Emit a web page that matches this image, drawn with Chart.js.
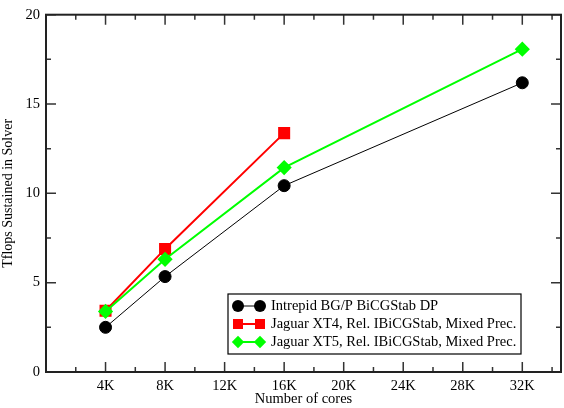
<!DOCTYPE html>
<html>
<head>
<meta charset="utf-8">
<script src="https://cdn.jsdelivr.net/npm/chart.js@4"></script>
<style>
  html,body{margin:0;padding:0;background:#fff}
  #wrap{width:564px;height:408px}
</style>
</head>
<body>
<div id="wrap"><canvas id="c"></canvas></div>
<script>
/* ---- data ---- */
const cores     = [4000, 8000, 16000, 32000];
const intrepid  = [2.5, 5.34, 10.43, 16.19];
const jaguarXT4 = [3.43, 6.89, 13.37];
const jaguarXT5 = [3.39, 6.31, 11.44, 18.07];
const names = ['Intrepid BG/P BiCGStab DP',
               'Jaguar XT4, Rel. IBiCGStab, Mixed Prec.',
               'Jaguar XT5, Rel. IBiCGStab, Mixed Prec.'];
/* x ticks every 2K, labelled every 4K */
const xTicks = [0, 2000, 4000, 6000, 8000, 10000, 12000, 14000, 16000,
                18000, 20000, 22000, 24000, 26000, 28000, 30000, 32000, 34000];
const xLabels = {4000:'4K', 8000:'8K', 12000:'12K', 16000:'16K',
                 20000:'20K', 24000:'24K', 28000:'28K', 32000:'32K'};

const FONT = "'Liberation Serif', 'DejaVu Serif', serif";
const pts = (xs, ys) => ys.map((v, i) => ({x: xs[i], y: v}));

const sets = [
  {label:names[0], data:pts(cores,intrepid),  borderColor:'#000', backgroundColor:'#000',
   borderWidth:1, pointStyle:'circle', pointRadius:6, order:2},
  {label:names[1], data:pts(cores,jaguarXT4), borderColor:'#f00', backgroundColor:'#f00',
   borderWidth:2, pointStyle:'rect', pointRadius:7.1, order:1},
  {label:names[2], data:pts(cores,jaguarXT5), borderColor:'#0f0', backgroundColor:'#0f0',
   borderWidth:2, pointStyle:'rectRot', pointRadius:6.2, order:0}
];

/* ---- frame with inward ticks ---- */
const frame = {
  id:'frame',
  beforeDatasetsDraw(c){
    const {ctx, chartArea:a, scales:{x, y}} = c;
    ctx.save();
    ctx.strokeStyle = '#333';
    ctx.lineWidth = 1.5;
    x.ticks.forEach(t => {
      const px = x.getPixelForValue(t.value), len = xLabels[t.value] || t.value === 0 ? 10 : 5;
      ctx.beginPath();
      ctx.moveTo(px, a.bottom); ctx.lineTo(px, a.bottom - len);
      ctx.moveTo(px, a.top);    ctx.lineTo(px, a.top + len);
      ctx.stroke();
    });
    y.ticks.forEach(t => {
      const py = y.getPixelForValue(t.value), len = t.value % 5 ? 5 : 10;
      ctx.beginPath();
      ctx.moveTo(a.left, py);  ctx.lineTo(a.left + len, py);
      ctx.moveTo(a.right, py); ctx.lineTo(a.right - len, py);
      ctx.stroke();
    });
    ctx.strokeStyle = '#222';
    ctx.lineWidth = 2;
    ctx.strokeRect(a.left, a.top, a.right - a.left, a.bottom - a.top);
    ctx.restore();
  },
  afterDraw(c){
    /* legend box */
    const ctx = c.ctx;
    const bx = 228, by = 294, bw = 293, bh = 60, rows = [306, 324, 342];
    ctx.save();
    ctx.fillStyle = '#fff';
    ctx.fillRect(bx, by, bw, bh);
    ctx.strokeStyle = '#000';
    ctx.lineWidth = 1.2;
    ctx.strokeRect(bx, by, bw, bh);
    ctx.font = '14.5px ' + FONT;
    ctx.textBaseline = 'middle';
    sets.forEach((s, i) => {
      const yy = rows[i];
      ctx.strokeStyle = s.borderColor;
      ctx.lineWidth = s.borderWidth;
      ctx.beginPath(); ctx.moveTo(238, yy); ctx.lineTo(260, yy); ctx.stroke();
      [238, 260].forEach(xx => {
        ctx.fillStyle = s.backgroundColor;
        Chart.helpers.drawPoint(ctx, {pointStyle:s.pointStyle, radius:s.pointRadius, rotation:0, borderWidth:0}, xx, yy);
      });
      ctx.fillStyle = '#000';
      ctx.fillText(s.label, 271, yy);
    });
    ctx.restore();
  }
};

/* ---- chart ---- */
new Chart(document.getElementById('c'), {
  type:'line',
  data:{datasets:sets},
  options:{
    responsive:true, maintainAspectRatio:false, animation:false,
    layout:{autoPadding:false, padding:{top:10, right:3, left:0, bottom:0}},
    elements:{line:{tension:0}, point:{borderWidth:0, hoverRadius:6}},
    plugins:{legend:{display:false}, tooltip:{enabled:false}},
    scales:{
      x:{
        type:'linear', min:0, max:34600,
        grid:{display:false, drawTicks:false}, border:{display:false},
        afterBuildTicks: s => { s.ticks = xTicks.map(v => ({value:v})); },
        afterFit: s => { s.height = 36; },
        ticks:{autoSkip:false, maxRotation:0, minRotation:0, padding:5, color:'#000',
               font:{family:FONT, size:14.5},
               callback: v => xLabels[v] || ''},
        title:{display:true, text:'Number of cores', color:'#000', padding:{top:0, bottom:0},
               font:{family:FONT, size:14.5}}
      },
      y:{
        min:0, max:20,
        grid:{display:false, drawTicks:false}, border:{display:false},
        afterFit: s => { s.width = 46; },
        ticks:{stepSize:2.5, padding:6, color:'#000', font:{family:FONT, size:14.5},
               callback: v => v % 5 === 0 ? v : ''},
        title:{display:true, text:'Tflops Sustained in Solver', color:'#000', padding:{top:0, bottom:0},
               font:{family:FONT, size:14}}
      }
    }
  },
  plugins:[frame]
});
</script>
</body>
</html>
